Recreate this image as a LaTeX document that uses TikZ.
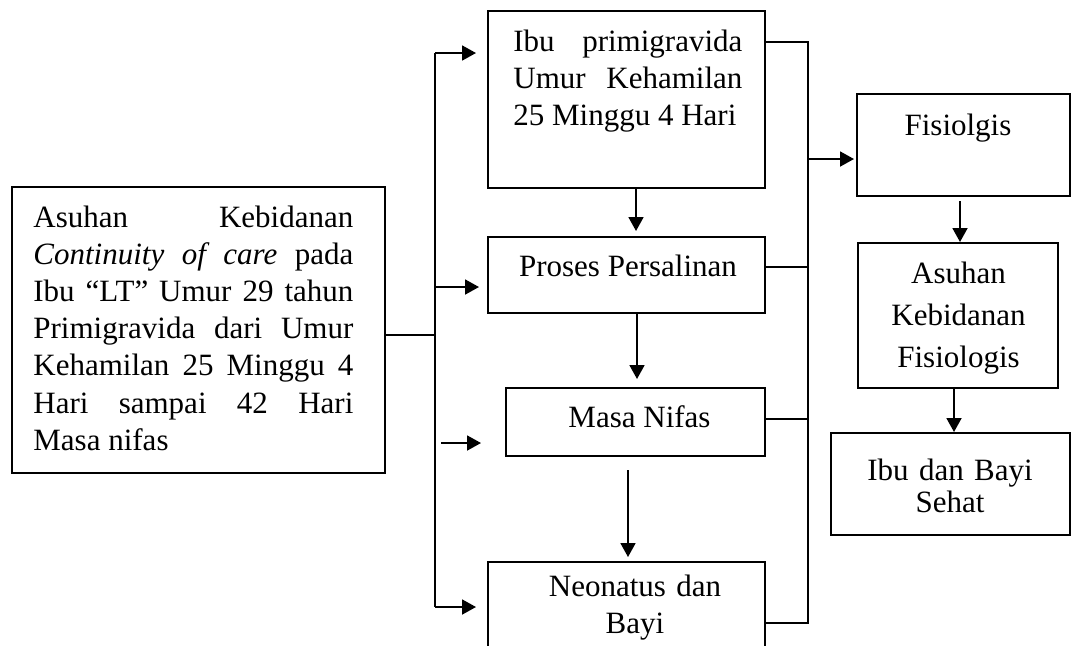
\documentclass[tikz,border=0pt]{standalone}
\usepackage{fontspec}
\setmainfont{Liberation Serif}
\usetikzlibrary{arrows.meta, positioning}

\begin{document}
\begin{tikzpicture}[x=0.5pt, y=0.5pt,
  box/.style={draw, line width=1pt, inner sep=0pt},
  txt/.style={inner sep=0pt, font=\fontsize{15.5pt}{18.6pt}\selectfont},
  line/.style={line width=0.9pt},
  arr/.style={line width=0.9pt, -{Triangle[length=7pt, width=7.5pt]}}]
\useasboundingbox (0,0) rectangle (1071,-645);
\node[box, minimum width=186.5pt, minimum height=143pt] (asuhan) at (198.5,-330) {};
\node[box, minimum width=138.5pt, minimum height=88.5pt] (hamil) at (626.5,-99.5) {};
\node[box, minimum width=138.5pt, minimum height=38pt] (salin) at (626.5,-275) {};
\node[box, minimum width=129.5pt, minimum height=34pt] (nifas) at (635.5,-422) {};
\node[box, minimum width=138.5pt, minimum height=49pt] (bayi) at (626.5,-611) {};
\node[box, minimum width=106.5pt, minimum height=51pt] (fisio) at (963.5,-145) {};
\node[box, minimum width=100pt, minimum height=72.5pt] (akf) at (958,-315.5) {};
\node[box, minimum width=119.5pt, minimum height=51pt] (sehat) at (950.5,-484) {};
\node[txt, text width=160pt, align=justify, anchor=base west] (asuhan-t) at (33,-227)
  {Asuhan Kebidanan\linebreak \textit{Continuity of care} pada\linebreak Ibu “LT” Umur 29 tahun\linebreak Primigravida dari Umur\linebreak Kehamilan 25 Minggu 4\linebreak Hari sampai 42 Hari\linebreak Masa nifas};
\node[txt, text width=114.5pt, align=justify, anchor=base west] (hamil-t) at (513,-51)
  {Ibu primigravida\linebreak Umur Kehamilan\linebreak 25 Minggu 4 Hari};
\node[txt, anchor=base] (salin-t) at (628,-276) {Proses Persalinan};
\node[txt, anchor=base] (nifas-t) at (639.5,-427) {Masa Nifas};
\node[txt, text width=120pt, align=center, anchor=base] (bayi-t) at (635,-596) {Neonatus dan\\Bayi};
\node[txt, anchor=base] (fisio-t) at (958,-135) {Fisiolgis};
\node[txt, font=\fontsize{15.5pt}{21pt}\selectfont, text width=95pt, align=center, anchor=base] (akf-t) at (958.5,-283) {Asuhan\\Kebidanan\\Fisiologis};
\node[txt, font=\fontsize{15.5pt}{16pt}\selectfont, text width=110pt, align=center, anchor=base] (sehat-t) at (950,-480) {Ibu dan Bayi\\Sehat};
\coordinate (tk0) at (435,-335);
\coordinate (tk1) at (435,-53);
\coordinate (tk2) at (435,-287);
\coordinate (tk3) at (435,-443);
\coordinate (tk4) at (435,-607);
\draw[line] (tk0 -| asuhan.east) -- (tk0);
\draw[line] (tk1) -- (tk4);
\draw[arr, shorten >=5.5pt] (tk1) -- (tk1 -| hamil.west);
\draw[arr, shorten >=4pt] (tk2) -- (tk2 -| salin.west);
\draw[arr, shorten <=3pt, shorten >=12pt] (tk3) -- (tk3 -| nifas.west);
\draw[arr, shorten >=5.5pt] (tk4) -- (tk4 -| bayi.west);
\coordinate (bs1) at (808,-42);
\coordinate (bs2) at (808,-267);
\coordinate (bs3) at (808,-419);
\coordinate (bs4) at (808,-623);
\coordinate (bsf) at (808,-159);
\draw[line] (bs1 -| hamil.east) -- (bs1) -- (bs4) -- (bs4 -| bayi.east);
\draw[line] (bs2 -| salin.east) -- (bs2);
\draw[line] (bs3 -| nifas.east) -- (bs3);
\draw[arr, shorten >=1pt] (bsf) -- (bsf -| fisio.west);
\coordinate (v1) at (636,0);
\coordinate (v2) at (637,0);
\coordinate (v3) at (628,0);
\coordinate (v4) at (960,0);
\coordinate (v5) at (954,0);
\draw[arr, shorten >=2.5pt] (v1 |- hamil.south) -- (v1 |- salin.north);
\draw[arr, shorten >=4pt] (v2 |- salin.south) -- (v2 |- nifas.north);
\draw[arr, shorten <=6.5pt, shorten >=2pt] (v3 |- nifas.south) -- (v3 |- bayi.north);
\draw[arr, shorten <=2pt] (v4 |- fisio.south) -- (v4 |- akf.north);
\draw[arr] (v5 |- akf.south) -- (v5 |- sehat.north);
\end{tikzpicture}
\end{document}
